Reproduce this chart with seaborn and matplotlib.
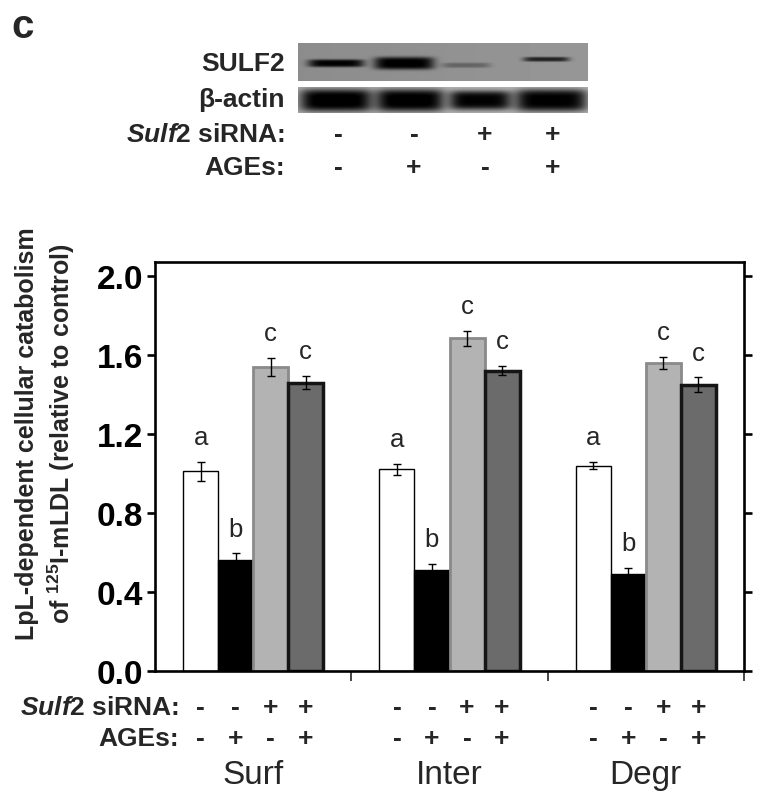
import numpy as np
import pandas as pd
import matplotlib
matplotlib.use("Agg")
import matplotlib.pyplot as plt
import seaborn as sns
from matplotlib.transforms import blended_transform_factory

# ---------------- data ----------------
groups = ["Surf", "Inter", "Degr"]
conditions = ["Control", "AGEs", "siRNA", "siRNA+AGEs"]

ctrl_vals = [1.01, 1.02, 1.04]
ages_vals = [0.56, 0.51, 0.49]
sirna_vals = [1.54, 1.685, 1.56]
sirna_ages_vals = [1.46, 1.52, 1.45]

ctrl_err = [0.05, 0.03, 0.02]
ages_err = [0.035, 0.03, 0.03]
sirna_err = [0.045, 0.038, 0.03]
sirna_ages_err = [0.035, 0.022, 0.036]

sig_letters = ["a", "b", "c", "c"]
sulf2_row = ["-", "-", "+", "+"]
ages_row = ["-", "+", "-", "+"]

yticks = [0.0, 0.4, 0.8, 1.2, 1.6, 2.0]
ytick_labels = ["0.0", "0.4", "0.8", "1.2", "1.6", "2.0"]

# western blot band intensities
sulf2_band_dark = [0.55, 0.58, 0.18, 0.45]
actin_band_dark = [0.72, 0.72, 0.70, 0.72]

# ---------------- style ----------------
sns.set_style("white")
plt.rcParams["font.family"] = ["Liberation Sans", "DejaVu Sans"]
plt.rcParams["mathtext.fontset"] = "custom"
plt.rcParams["mathtext.rm"] = "Liberation Sans:bold"
plt.rcParams["mathtext.bf"] = "Liberation Sans:bold"
plt.rcParams["mathtext.it"] = "Liberation Sans:italic:bold"

W, H = 767, 803
fig = plt.figure(figsize=(W / 100, H / 100), dpi=100)

def fx(px):
    return px / W

def fy(py):
    return 1 - py / H

LBL = 19

# ---------------- bar chart ----------------
ax = fig.add_axes([fx(155), fy(672), fx(744) - fx(155), fy(263) - fy(672)])

all_vals = [ctrl_vals, ages_vals, sirna_vals, sirna_ages_vals]
all_errs = [ctrl_err, ages_err, sirna_err, sirna_ages_err]
rows = []
for cond, vals in zip(conditions, all_vals):
    for g, v in zip(groups, vals):
        rows.append({"group": g, "condition": cond, "value": v})
df = pd.DataFrame(rows)

palette = ["#ffffff", "#000000", "#b3b3b3", "#6b6b6b"]
edgecols = ["#000000", "#000000", "#8a8a8a", "#151515"]
edgelws = [1.0, 1.0, 2.0, 2.5]

sns.barplot(data=df, x="group", y="value", hue="condition", order=groups,
            hue_order=conditions, palette=palette, width=0.714,
            errorbar=None, saturation=1, legend=False, ax=ax, zorder=2)

for cont, ec, lw, errs in zip(ax.containers, edgecols, edgelws, all_errs):
    xs, hs = [], []
    for bar in cont:
        bar.set_edgecolor(ec)
        bar.set_linewidth(lw)
        xs.append(bar.get_x() + bar.get_width() / 2)
        hs.append(bar.get_height())
    ax.errorbar(xs, hs, yerr=errs, fmt="none", ecolor="black",
                elinewidth=1.0, capsize=3.2, capthick=1.0, zorder=3)

# significance letters
for cont, errs, letter in zip(ax.containers, all_errs, sig_letters):
    for bar, e in zip(cont, errs):
        xc = bar.get_x() + bar.get_width() / 2
        ax.text(xc, bar.get_height() + e + 0.065, letter, ha="center",
                va="bottom", fontsize=18.5)

ax.set_xlim(-0.5, 2.5)
ax.set_ylim(0, 2.07)
ax.set_yticks(yticks)
ax.set_yticklabels(ytick_labels, fontsize=24, fontweight="bold")
ax.set_xticks([0.5, 1.5, 2.5])
ax.set_xticklabels([])
ax.set_xlabel("")
ax.set_ylabel("")
for sp in ax.spines.values():
    sp.set_visible(True)
    sp.set_linewidth(1.9)
    sp.set_color("black")
ax.tick_params(axis="y", left=True, right=True, direction="out",
               length=5.5, width=1.9, pad=3, colors="black")
ax.tick_params(axis="x", bottom=True, top=False, direction="out",
               length=7.5, width=1.2)

fig.text(fx(46), fy(434),
         "LpL-dependent cellular catabolism\nof $^{125}$I-mLDL (relative to control)",
         rotation=90, ha="center", va="center", multialignment="center",
         fontsize=18, fontweight="bold", linespacing=1.3)

# bottom condition rows
trans = blended_transform_factory(ax.transData, fig.transFigure)
fig.text(fx(179), fy(708), "$\\mathit{Sulf}$2 siRNA:", ha="right", va="center",
         fontsize=LBL, fontweight="bold")
fig.text(fx(179), fy(739), "AGEs:", ha="right", va="center",
         fontsize=LBL, fontweight="bold")
for cont, s1, s2 in zip(ax.containers, sulf2_row, ages_row):
    for bar in cont:
        xc = bar.get_x() + bar.get_width() / 2
        ax.text(xc, fy(708), s1, transform=trans, ha="center", va="center",
                fontsize=LBL, fontweight="bold")
        ax.text(xc, fy(739), s2, transform=trans, ha="center", va="center",
                fontsize=LBL, fontweight="bold")
for i, g in enumerate(groups):
    ax.text(i, fy(776), g, transform=trans, ha="center", va="center",
            fontsize=24)

# ---------------- western blot ----------------
def make_strip(x0, x1, y0, y1, bg, centers_x, half_w, centers_y, half_h, dark):
    xs = np.arange(x0, x1, 0.5)
    ys = np.arange(y0, y1, 0.5)
    X, Y = np.meshgrid(xs, ys)
    img = np.full(X.shape, bg) + 0.04 * (X - x0) / (x1 - x0)
    for cx, hw, cy, hh, d in zip(centers_x, half_w, centers_y, half_h, dark):
        prof = np.exp(-((X - cx) / hw) ** 6) * np.exp(-((Y - cy) / hh) ** 4)
        img = img - d * prof
    return np.clip(img, 0, 1)

blot_x0, blot_x1 = 298, 588
ax_s = fig.add_axes([fx(blot_x0), fy(82), fx(blot_x1) - fx(blot_x0), fy(44) - fy(82)])
img_s = make_strip(blot_x0, blot_x1, 44, 82, 0.55,
                   [336, 404, 466, 546], [28, 30, 24, 23],
                   [64, 64, 66, 60], [3.8, 6.2, 2.5, 2.3], sulf2_band_dark)
ax_s.imshow(img_s, cmap="gray", vmin=0, vmax=1, aspect="auto",
            interpolation="bilinear")
ax_s.axis("off")

ax_a = fig.add_axes([fx(blot_x0), fy(114), fx(blot_x1) - fx(blot_x0), fy(88) - fy(114)])
img_a = make_strip(blot_x0, blot_x1, 88, 114, 0.68,
                   [336, 410, 480, 551], [36, 34, 31, 36],
                   [101, 101, 101, 101], [11, 11, 9.5, 11], actin_band_dark)
ax_a.imshow(img_a, cmap="gray", vmin=0, vmax=1, aspect="auto",
            interpolation="bilinear")
ax_a.axis("off")

fig.text(fx(285), fy(64), "SULF2", ha="right", va="center", fontsize=LBL,
         fontweight="bold")
fig.text(fx(285), fy(100), "β-actin", ha="right", va="center", fontsize=LBL,
         fontweight="bold")
fig.text(fx(285), fy(135), "$\\mathit{Sulf}$2 siRNA:", ha="right", va="center",
         fontsize=LBL, fontweight="bold")
fig.text(fx(285), fy(168), "AGEs:", ha="right", va="center", fontsize=LBL,
         fontweight="bold")
lane_x = [338, 414, 485, 553]
for lx, s1, s2 in zip(lane_x, sulf2_row, ages_row):
    fig.text(fx(lx), fy(135), s1, ha="center", va="center", fontsize=LBL,
             fontweight="bold")
    fig.text(fx(lx), fy(168), s2, ha="center", va="center", fontsize=LBL,
             fontweight="bold")

fig.text(fx(23), fy(27), "c", ha="center", va="center", fontsize=29,
         fontweight="bold")

fig.savefig("out.png", dpi=100)
